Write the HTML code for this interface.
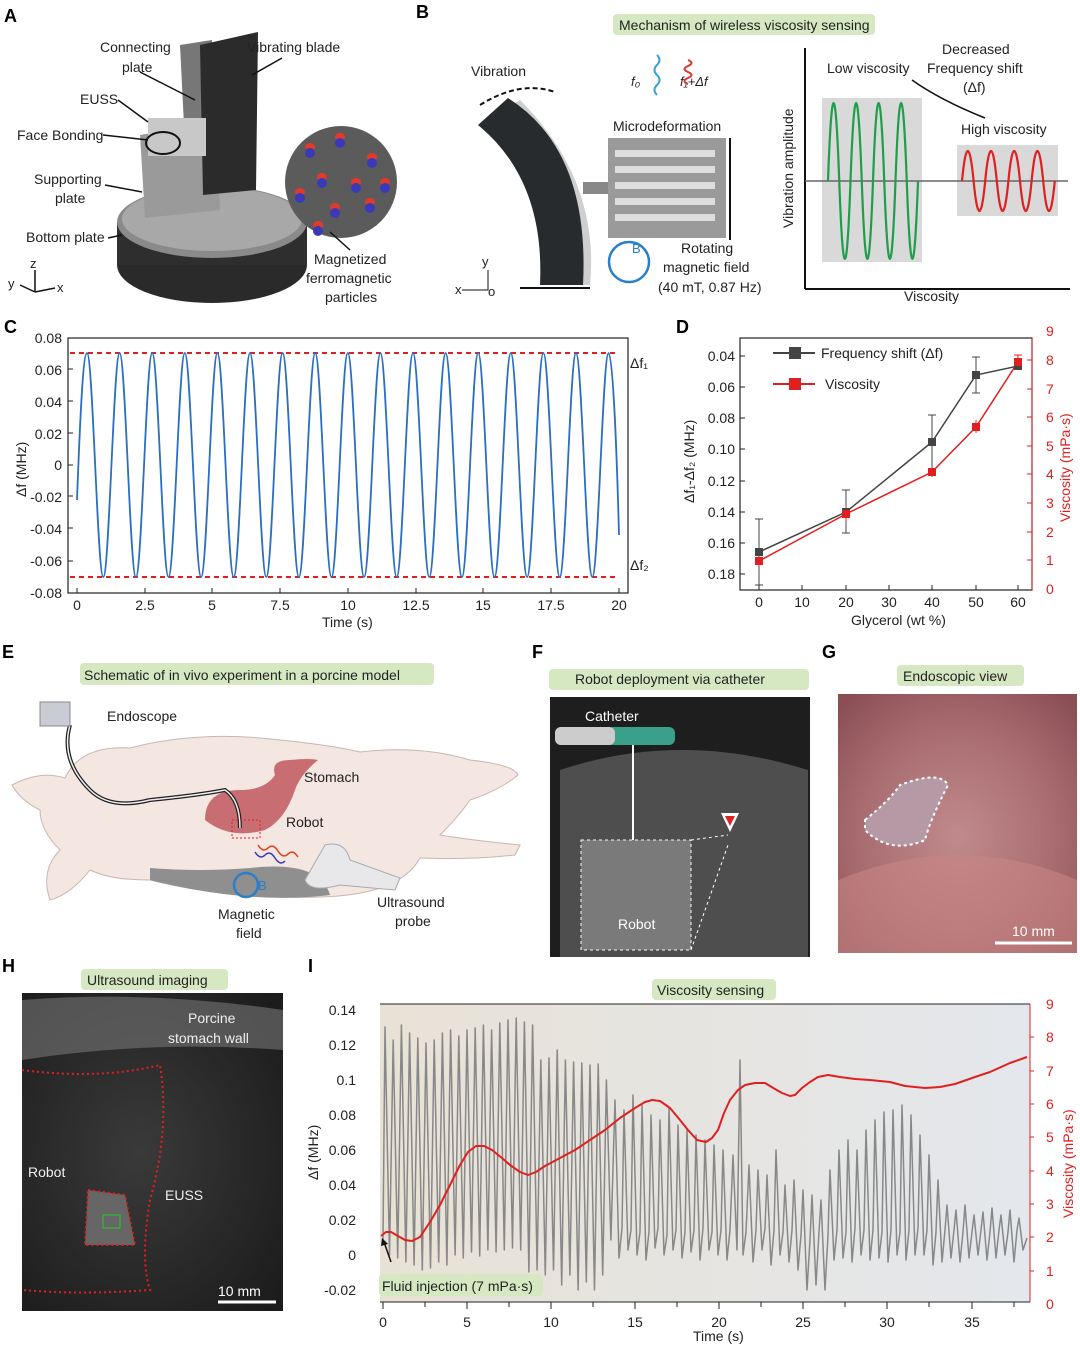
<!DOCTYPE html>
<html><head><meta charset="utf-8"><style>
body{margin:0;background:#fff}
svg{display:block;font-family:"Liberation Sans",sans-serif}
.L{font-weight:bold;font-size:18px}
.t{font-size:14px;fill:#222}
.s{font-size:13px;fill:#222}
.r{font-size:14px;fill:#e02020}
.w{font-size:14px;fill:#fff}
.e{font-size:14px;fill:#eee}
</style></head><body>
<svg width="1080" height="1346" viewBox="0 0 1080 1346" xmlns="http://www.w3.org/2000/svg">
<defs>
<linearGradient id="gI" x1="0" x2="1"><stop offset="0" stop-color="#e8e2d6"/><stop offset="1" stop-color="#e4e7ec"/></linearGradient>
<radialGradient id="gG" cx="0.5" cy="0.55" r="0.7"><stop offset="0" stop-color="#c08a8c"/><stop offset="0.6" stop-color="#a86c70"/><stop offset="1" stop-color="#8a4f55"/></radialGradient>
<radialGradient id="gH" cx="0.45" cy="0.5" r="0.7"><stop offset="0" stop-color="#3a3a3a"/><stop offset="1" stop-color="#1c1c1c"/></radialGradient>
</defs>
<!-- Panel A -->
<text x="4" y="22" class="L">A</text>
<ellipse cx="212" cy="265" rx="95" ry="38" fill="#2a2a2a"/>
<rect x="117" y="222" width="190" height="43" fill="#2e2e2e"/>
<ellipse cx="212" cy="222" rx="95" ry="36" fill="#8a8a8a"/>
<ellipse cx="212" cy="219" rx="90" ry="32" fill="#a8a8a8"/>
<polygon points="140,135 215,122 220,210 145,218" fill="#9a9a9a"/>
<polygon points="180,45 212,40 216,120 184,125" fill="#777"/>
<polygon points="200,45 258,32 256,190 203,195" fill="#2b2b2b"/>
<rect x="148" y="118" width="58" height="38" fill="#c8c8c8"/>
<ellipse cx="163" cy="143" rx="17" ry="11" fill="none" stroke="#111" stroke-width="2"/>
<circle cx="341" cy="182" r="56" fill="#5b5b5b"/>
<g>
<ellipse cx="310" cy="147" rx="5" ry="4" fill="#e03a2a"/><ellipse cx="310" cy="153" rx="5" ry="5" fill="#3a3ab8"/>
<ellipse cx="340" cy="137" rx="5" ry="4" fill="#e03a2a"/><ellipse cx="340" cy="143" rx="5" ry="5" fill="#3a3ab8"/>
<ellipse cx="372" cy="157" rx="5" ry="4" fill="#e03a2a"/><ellipse cx="372" cy="163" rx="5" ry="5" fill="#3a3ab8"/>
<ellipse cx="322" cy="177" rx="5" ry="4" fill="#e03a2a"/><ellipse cx="322" cy="183" rx="5" ry="5" fill="#3a3ab8"/>
<ellipse cx="356" cy="182" rx="5" ry="4" fill="#e03a2a"/><ellipse cx="356" cy="188" rx="5" ry="5" fill="#3a3ab8"/>
<ellipse cx="300" cy="192" rx="5" ry="4" fill="#e03a2a"/><ellipse cx="300" cy="198" rx="5" ry="5" fill="#3a3ab8"/>
<ellipse cx="335" cy="207" rx="5" ry="4" fill="#e03a2a"/><ellipse cx="335" cy="213" rx="5" ry="5" fill="#3a3ab8"/>
<ellipse cx="370" cy="202" rx="5" ry="4" fill="#e03a2a"/><ellipse cx="370" cy="208" rx="5" ry="5" fill="#3a3ab8"/>
<ellipse cx="318" cy="225" rx="5" ry="4" fill="#e03a2a"/><ellipse cx="318" cy="231" rx="5" ry="5" fill="#3a3ab8"/>
<ellipse cx="385" cy="182" rx="5" ry="4" fill="#e03a2a"/><ellipse cx="385" cy="188" rx="5" ry="5" fill="#3a3ab8"/>
</g>
<text x="100" y="52" class="t">Connecting</text><text x="122" y="72" class="t">plate</text>
<text x="247" y="52" class="t">Vibrating blade</text>
<text x="80" y="104" class="t">EUSS</text>
<text x="17" y="140" class="t">Face Bonding</text>
<text x="34" y="184" class="t">Supporting</text><text x="55" y="203" class="t">plate</text>
<text x="26" y="242" class="t">Bottom plate</text>
<text x="314" y="264" class="t">Magnetized</text><text x="306" y="283" class="t">ferromagnetic</text><text x="325" y="302" class="t">particles</text>
<g stroke="#111" stroke-width="1.5" fill="none"><line x1="140" y1="72" x2="195" y2="100"/><line x1="118" y1="100" x2="148" y2="122"/><line x1="103" y1="135" x2="148" y2="140"/><line x1="105" y1="185" x2="142" y2="192"/><line x1="108" y1="238" x2="122" y2="235"/><line x1="282" y1="58" x2="252" y2="75"/><line x1="350" y1="250" x2="330" y2="232"/>
<line x1="35" y1="292" x2="35" y2="270"/><line x1="35" y1="292" x2="55" y2="288"/><line x1="35" y1="292" x2="20" y2="285"/></g>
<text x="30" y="268" class="s">z</text><text x="57" y="292" class="s">x</text><text x="8" y="288" class="s">y</text>
<!-- Panel B -->
<text x="416" y="18" class="L">B</text>
<rect x="613" y="14" width="262" height="21" rx="4" fill="#d6e8c2"/>
<text x="619" y="30" class="t">Mechanism of wireless viscosity sensing</text>
<path d="M520,100 Q600,180 590,285 L545,285 Q545,180 478,125 Z" fill="#cfcfcf"/>
<path d="M478,125 Q545,180 540,285 L583,285 Q590,150 508,98 Z" fill="#272b2d"/>
<line x1="520" y1="288" x2="590" y2="288" stroke="#111" stroke-width="2"/>
<path d="M480,105 Q520,80 555,92" stroke="#111" stroke-width="2" fill="none" stroke-dasharray="5,3"/>
<text x="471" y="76" class="t">Vibration</text>
<rect x="583" y="182" width="30" height="12" fill="#888"/>
<rect x="608" y="138" width="118" height="100" fill="#9a9a9a"/>
<g fill="#ddd"><rect x="615" y="150" width="100" height="7"/><rect x="615" y="166" width="100" height="7"/><rect x="615" y="182" width="100" height="7"/><rect x="615" y="198" width="100" height="7"/><rect x="615" y="214" width="100" height="7"/></g>
<line x1="730" y1="138" x2="730" y2="240" stroke="#111" stroke-width="2"/>
<text x="613" y="131" class="t">Microdeformation</text>
<text x="631" y="86" class="s" font-style="italic">f₀</text><text x="680" y="86" class="s" font-style="italic">f₁+Δf</text>
<path d="M657,55 q5,5 0,10 q-5,5 0,10 q5,5 0,10 q-5,5 0,10" stroke="#3aa0d8" fill="none" stroke-width="2"/>
<path d="M688,60 q7,3 0,6 q-7,3 0,6 q7,3 0,6 q-7,3 0,6" stroke="#e03030" fill="none" stroke-width="2"/>
<circle cx="629" cy="262" r="20" fill="none" stroke="#2a7fc8" stroke-width="2.5"/>
<text x="632" y="253" class="s" style="fill:#2a7fc8">B</text>
<text x="681" y="253" class="t">Rotating</text><text x="663" y="272" class="t">magnetic field</text><text x="658" y="292" class="t">(40 mT, 0.87 Hz)</text>
<text x="482" y="266" class="s">y</text><text x="455" y="294" class="s">x</text><text x="488" y="296" class="s">o</text>
<polyline points="488,270 488,290 462,290" fill="none" stroke="#111"/>
<rect x="822" y="98" width="100" height="164" fill="#d9d9d9"/>
<rect x="957" y="145" width="101" height="71" fill="#d9d9d9"/>
<line x1="805" y1="48" x2="805" y2="289" stroke="#111" stroke-width="2"/>
<line x1="805" y1="289" x2="1070" y2="289" stroke="#111" stroke-width="2"/>
<line x1="805" y1="181" x2="1068" y2="181" stroke="#666" stroke-width="1.5"/>
<path d="M828,181 q5.6,-156 11.25,0 t11.25,0 t11.25,0 t11.25,0 t11.25,0 t11.25,0 t11.25,0 t11.25,0" fill="none" stroke="#1e9e4a" stroke-width="2.2"/>
<path d="M962,181 q5.8,-60 11.6,0 t11.6,0 t11.6,0 t11.6,0 t11.6,0 t11.6,0 t11.6,0 t11.6,0" fill="none" stroke="#e02020" stroke-width="2.2"/>
<path d="M912,80 Q940,100 985,118" stroke="#111" fill="none" stroke-width="1.5"/>
<text x="827" y="73" class="t">Low viscosity</text>
<text x="942" y="54" class="t">Decreased</text><text x="927" y="73" class="t">Frequency shift</text><text x="963" y="92" class="t">(Δf)</text>
<text x="961" y="134" class="t">High viscosity</text>
<text x="904" y="301" class="t">Viscosity</text>
<text transform="translate(793,228) rotate(-90)" class="t">Vibration amplitude</text>
<!-- Panel C -->
<text x="4" y="333" class="L">C</text>
<rect x="68" y="338" width="560" height="255" fill="none" stroke="#222" stroke-width="1.2"/>
<g class="t" text-anchor="end">
<text x="62" y="343">0.08</text><text x="62" y="375">0.06</text><text x="62" y="407">0.04</text><text x="62" y="439">0.02</text><text x="62" y="470">0</text><text x="62" y="502">-0.02</text><text x="62" y="534">-0.04</text><text x="62" y="566">-0.06</text><text x="62" y="598">-0.08</text>
</g>
<g class="t" text-anchor="middle">
<text x="77" y="610">0</text><text x="145" y="610">2.5</text><text x="212" y="610">5</text><text x="280" y="610">7.5</text><text x="348" y="610">10</text><text x="416" y="610">12.5</text><text x="483" y="610">15</text><text x="551" y="610">17.5</text><text x="619" y="610">20</text>
</g>
<g stroke="#222"><path d="M77,593v-5M145,593v-5M212,593v-5M280,593v-5M348,593v-5M416,593v-5M483,593v-5M551,593v-5M619,593v-5M68,369h5M68,401h5M68,433h5M68,465h5M68,496h5M68,528h5M68,561h5"/></g>
<line x1="70" y1="353" x2="615" y2="353" stroke="#e02020" stroke-width="2" stroke-dasharray="5,4"/>
<line x1="70" y1="577" x2="615" y2="577" stroke="#e02020" stroke-width="2" stroke-dasharray="5,4"/>
<path d="M77,500 C80,420 83,353 87,353 c5.9,0 10.4,224 16.3,224 s10.4,-224 16.3,-224 s10.4,224 16.3,224 s10.4,-224 16.3,-224 s10.4,224 16.3,224 s10.4,-224 16.3,-224 s10.4,224 16.3,224 s10.4,-224 16.3,-224 s10.4,224 16.3,224 s10.4,-224 16.3,-224 s10.4,224 16.3,224 s10.4,-224 16.3,-224 s10.4,224 16.3,224 s10.4,-224 16.3,-224 s10.4,224 16.3,224 s10.4,-224 16.3,-224 s10.4,224 16.3,224 s10.4,-224 16.3,-224 s10.4,224 16.3,224 s10.4,-224 16.3,-224 s10.4,224 16.3,224 s10.4,-224 16.3,-224 s10.4,224 16.3,224 s10.4,-224 16.3,-224 s10.4,224 16.3,224 s10.4,-224 16.3,-224 s10.4,224 16.3,224 s10.4,-224 16.3,-224 s10.4,224 16.3,224 s10.4,-224 16.3,-224 s10.4,224 16.3,224 s10.4,-224 16.3,-224 C613,353 617,460 619,535" fill="none" stroke="#2a6fc0" stroke-width="1.8"/>
<text x="630" y="368" class="t">Δf₁</text><text x="630" y="570" class="t">Δf₂</text>
<text x="322" y="627" class="t">Time (s)</text>
<text transform="translate(26,497) rotate(-90)" class="t">Δf (MHz)</text>
<!-- Panel D -->
<text x="676" y="333" class="L">D</text>
<rect x="740" y="338" width="292" height="252" fill="none" stroke="#222" stroke-width="1.2"/>
<line x1="1032" y1="338" x2="1032" y2="590" stroke="#e02020"/>
<g class="t" text-anchor="end">
<text x="735" y="361">0.04</text><text x="735" y="392">0.06</text><text x="735" y="423">0.08</text><text x="735" y="454">0.10</text><text x="735" y="486">0.12</text><text x="735" y="517">0.14</text><text x="735" y="548">0.16</text><text x="735" y="579">0.18</text>
</g>
<g class="r">
<text x="1046" y="594">0</text><text x="1046" y="565">1</text><text x="1046" y="537">2</text><text x="1046" y="508">3</text><text x="1046" y="479">4</text><text x="1046" y="451">5</text><text x="1046" y="422">6</text><text x="1046" y="394">7</text><text x="1046" y="365">8</text><text x="1046" y="336">9</text>
</g>
<g class="t" text-anchor="middle">
<text x="759" y="607">0</text><text x="802" y="607">10</text><text x="846" y="607">20</text><text x="889" y="607">30</text><text x="932" y="607">40</text><text x="976" y="607">50</text><text x="1018" y="607">60</text>
</g>
<path d="M740,356h5M740,387h5M740,418h5M740,449h5M740,481h5M740,512h5M740,543h5M740,574h5M759,590v-5M802,590v-5M846,590v-5M889,590v-5M932,590v-5M976,590v-5M1018,590v-5" stroke="#222"/>
<path d="M1032,560h-5M1032,532h-5M1032,503h-5M1032,474h-5M1032,446h-5M1032,417h-5M1032,389h-5M1032,360h-5" stroke="#e02020"/>
<path d="M759,519V585M755,519h8M755,585h8M846,490V533M842,490h8M842,533h8M932,415V470M928,415h8M928,470h8M976,357V393M972,357h8M972,393h8" stroke="#444"/>
<path d="M759,556V566M846,505V522M932,467V477M976,420V433M1018,355V369M1014,355h8M1014,369h8" stroke="#e02020"/>
<polyline points="759,552 846,512 932,442 976,375 1018,366" fill="none" stroke="#444" stroke-width="1.5"/>
<polyline points="759,561 846,514 932,472 976,427 1018,362" fill="none" stroke="#e02020" stroke-width="1.5"/>
<g fill="#444"><rect x="755" y="548" width="8" height="8"/><rect x="842" y="508" width="8" height="8"/><rect x="928" y="438" width="8" height="8"/><rect x="972" y="371" width="8" height="8"/><rect x="1014" y="362" width="8" height="8"/></g>
<g fill="#e02020"><rect x="755" y="557" width="8" height="8"/><rect x="842" y="510" width="8" height="8"/><rect x="928" y="468" width="8" height="8"/><rect x="972" y="423" width="8" height="8"/><rect x="1014" y="358" width="8" height="8"/></g>
<text x="851" y="625" class="t">Glycerol (wt %)</text>
<text transform="translate(694,503) rotate(-90)" class="t">Δf₁-Δf₂ (MHz)</text>
<text transform="translate(1070,522) rotate(-90)" class="r">Viscosity (mPa·s)</text>
<line x1="773" y1="353" x2="815" y2="353" stroke="#444" stroke-width="2"/><rect x="789" y="347" width="12" height="12" fill="#444"/>
<text x="821" y="358" class="t">Frequency shift (Δf)</text>
<line x1="773" y1="384" x2="815" y2="384" stroke="#e02020" stroke-width="2"/><rect x="789" y="378" width="12" height="12" fill="#e02020"/>
<text x="825" y="389" class="t">Viscosity</text>
<!-- Panel E -->
<text x="2" y="658" class="L">E</text>
<rect x="80" y="663" width="354" height="22" rx="4" fill="#d6e8c2"/>
<text x="84" y="680" class="t">Schematic of in vivo experiment in a porcine  model</text>
<path d="M12,785 Q40,770 65,778 Q80,745 130,748 Q200,730 280,740 Q330,745 360,752 Q420,745 470,760 Q515,765 518,775 Q500,790 470,800 Q460,815 440,835 Q470,840 520,845 L515,855 Q470,860 420,858 Q400,895 320,897 Q230,900 150,880 Q110,880 90,870 Q70,895 50,900 Q40,870 60,850 Q40,830 40,810 Q20,800 12,785 Z" fill="#f4e6e0" stroke="#c9b6b0"/>
<path d="M150,880 Q250,905 330,895 Q320,860 250,868 Q200,872 150,868 Z" fill="#8f8f8f"/>
<path d="M205,820 Q205,790 240,790 Q265,790 275,775 Q270,760 290,760 Q310,758 318,760 Q300,775 295,790 Q285,820 265,830 Q230,840 205,820 Z" fill="#c86e73"/>
<path d="M70,725 Q60,760 90,790 Q110,810 150,800 Q200,795 225,790 Q240,800 240,828" stroke="#222" stroke-width="4" fill="none"/>
<path d="M70,725 Q60,760 90,790 Q110,810 150,800 Q200,795 225,790 Q240,800 240,828" stroke="#eee" stroke-width="1.5" fill="none"/>
<rect x="40" y="702" width="30" height="24" fill="#c9ccd3" stroke="#888"/>
<rect x="232" y="820" width="28" height="18" fill="none" stroke="#e02020" stroke-dasharray="2,2"/>
<path d="M305,880 L325,845 Q345,840 350,860 L400,878 L395,890 L340,885 Q310,893 305,880 Z" fill="#e8e8ea" stroke="#aaa"/>
<path d="M258,845 q5,8 10,3 q5,-5 10,3 q5,8 10,3 q5,-5 10,3" stroke="#e04020" fill="none" stroke-width="1.5"/>
<path d="M255,852 q5,8 10,3 q5,-5 10,3 q5,8 10,3" stroke="#3a3ab8" fill="none" stroke-width="1.5"/>
<circle cx="246" cy="885" r="12" fill="none" stroke="#2a7fc8" stroke-width="2.5"/>
<text x="258" y="890" class="s" style="fill:#2a7fc8">B</text>
<text x="107" y="721" class="t">Endoscope</text><text x="304" y="782" class="t">Stomach</text><text x="286" y="827" class="t">Robot</text>
<text x="218" y="919" class="t">Magnetic</text><text x="236" y="938" class="t">field</text>
<text x="377" y="907" class="t">Ultrasound</text><text x="395" y="926" class="t">probe</text>
<!-- Panel F -->
<text x="532" y="658" class="L">F</text>
<rect x="549" y="669" width="260" height="21" rx="4" fill="#d6e8c2"/>
<text x="575" y="684" class="t">Robot deployment via catheter</text>
<rect x="550" y="697" width="260" height="260" fill="#1e1e1e"/>
<path d="M560,770 Q680,730 808,770 L808,957 L560,957 Z" fill="#5a5a5a" opacity="0.8"/>
<rect x="581" y="840" width="110" height="110" fill="#7a7a7a" stroke="#fff" stroke-dasharray="3,3"/>
<line x1="691" y1="840" x2="728" y2="835" stroke="#fff" stroke-dasharray="3,3"/><line x1="691" y1="950" x2="728" y2="845" stroke="#fff" stroke-dasharray="3,3"/>
<line x1="633" y1="745" x2="633" y2="840" stroke="#fff" stroke-width="2"/>
<rect x="555" y="727" width="120" height="18" rx="6" fill="#3aa08a"/><rect x="555" y="727" width="60" height="18" rx="6" fill="#ccc"/>
<text x="585" y="721" class="w">Catheter</text><text x="618" y="929" class="w">Robot</text>
<polygon points="721,813 739,813 730,832" fill="#fff"/><polygon points="725,816 735,816 730,826" fill="#d22"/>
<!-- Panel G -->
<text x="822" y="658" class="L">G</text>
<rect x="897" y="665" width="127" height="21" rx="4" fill="#d6e8c2"/>
<text x="903" y="681" class="t">Endoscopic view</text>
<rect x="838" y="694" width="239" height="259" fill="url(#gG)"/>
<path d="M838,880 Q960,830 1077,880 L1077,953 L838,953 Z" fill="#c88583" opacity="0.6"/>
<path d="M865,820 Q890,800 900,785 Q940,770 948,785 Q930,820 925,840 Q890,855 865,830 Z" fill="#b59aa6" stroke="#fff" stroke-width="2" stroke-dasharray="3,3"/>
<line x1="995" y1="943" x2="1072" y2="943" stroke="#fff" stroke-width="3"/>
<text x="1012" y="936" class="w">10 mm</text>
<!-- Panel H -->
<text x="2" y="972" class="L">H</text>
<rect x="81" y="969" width="147" height="21" rx="4" fill="#d6e8c2"/>
<text x="87" y="985" class="t">Ultrasound imaging</text>
<rect x="22" y="993" width="261" height="318" fill="url(#gH)"/>
<path d="M22,1000 Q150,990 283,1010 L283,1050 Q150,1040 22,1060 Z" fill="#777" opacity="0.6"/>
<path d="M22,1070 Q100,1080 160,1065 Q170,1130 150,1200 Q140,1260 150,1290 Q80,1295 22,1290" fill="none" stroke="#e02020" stroke-width="2" stroke-dasharray="2,3"/>
<path d="M88,1190 L125,1195 L135,1245 L85,1245 Z" fill="#666" stroke="#e02020" stroke-width="2" stroke-dasharray="2,3"/>
<rect x="103" y="1215" width="17" height="13" fill="none" stroke="#2c2"/>
<text x="188" y="1023" class="e">Porcine</text><text x="168" y="1043" class="e">stomach wall</text>
<text x="28" y="1177" class="e">Robot</text><text x="165" y="1200" class="e">EUSS</text>
<line x1="218" y1="1302" x2="276" y2="1302" stroke="#fff" stroke-width="3"/>
<text x="218" y="1296" class="w">10 mm</text>
<!-- Panel I -->
<text x="308" y="972" class="L">I</text>
<rect x="652" y="979" width="124" height="21" rx="4" fill="#d6e8c2"/>
<text x="657" y="995" class="t">Viscosity sensing</text>
<rect x="380" y="1004" width="650" height="298" fill="url(#gI)"/>
<polyline fill="none" stroke="#888" stroke-width="1.5" stroke-linejoin="round" points="383,1240 385,1027 389.5,1255 393.2,1040 397.7,1258 401.4,1025 405.9,1262 409.6,1033 414.1,1265 417.8,1038 422.3,1270 426,1043 430.5,1268 434.2,1040 438.7,1262 442.4,1033 446.9,1265 450.6,1030 455.1,1255 458.8,1036 463.3,1258 467,1030 471.5,1252 475.2,1028 479.7,1256 483.4,1025 487.9,1250 491.6,1030 496.1,1252 499.8,1023 504.3,1250 508,1020 512.5,1248 516.2,1018 520.7,1250 524.4,1022 528.9,1272 532.6,1025 537.1,1270 540.8,1060 545.3,1275 549,1058 553.5,1270 557.2,1050 561.7,1285 565.4,1060 569.9,1275 573.6,1062 578.1,1290 581.8,1063 586.3,1282 590,1065 594.5,1290 598.2,1064 602.7,1275 606.4,1080 610.9,1240 615,1100 619,1258 622,1228 624,1110 628,1250 631,1230 633,1095 637,1255 640,1232 642,1105 646,1260 649,1232 651,1115 655,1248 658,1228 660,1120 664,1255 667,1235 669,1108 673,1250 676,1230 678,1125 682,1258 685,1232 687,1130 691,1252 694,1230 696,1135 700,1260 703,1228 705,1140 709,1250 712,1232 714,1145 718,1255 721,1230 723,1150 727,1260 730,1230 733,1155 737,1250 740,1060 743,1255 746,1232 749,1165 753,1262 756,1230 758,1170 762,1250 765,1228 767,1175 771,1265 774,1230 776,1150 780,1255 783,1232 785,1185 789,1262 792,1230 794,1180 798,1270 801,1235 803,1190 807,1290 810,1240 812,1195 816,1285 819,1232 821,1200 825,1290 828,1235 830,1170 834,1260 837,1230 839,1150 843,1258 846,1232 848,1140 852,1262 855,1228 857,1150 861,1255 864,1230 866,1130 870,1260 873,1230 875,1120 879,1258 882,1232 884,1112 888,1262 891,1230 893,1110 897,1255 900,1232 902,1105 906,1260 909,1230 911,1115 915,1255 918,1228 920,1135 924,1255 927,1230 929,1155 933,1265 936,1232 938,1180 942,1262 945,1230 947,1205 951,1258 954,1230 956,1210 960,1262 963,1232 965,1205 969,1258 972,1232 974,1215 978,1255 981,1230 983,1212 987,1260 990,1232 992,1208 996,1258 999,1230 1001,1215 1005,1255 1008,1232 1010,1210 1014,1262 1017,1230 1019,1218 1023,1250 1027,1238"/>
<polyline fill="none" stroke="#e02020" stroke-width="2" stroke-linejoin="round" points="381,1236 386,1232 391,1232 398,1236 405,1240 412,1241 420,1237 430,1222 440,1205 450,1185 460,1165 468,1152 476,1146 484,1146 492,1150 502,1158 510,1165 520,1172 528,1175 536,1172 545,1166 560,1158 575,1150 590,1140 605,1130 620,1118 635,1108 645,1102 652,1100 660,1101 670,1108 680,1120 688,1130 697,1140 706,1142 712,1138 718,1130 724,1113 730,1100 738,1090 745,1085 755,1083 765,1083 775,1089 782,1093 790,1096 795,1095 802,1088 810,1082 818,1077 828,1075 840,1077 855,1079 870,1080 890,1082 905,1086 925,1088 940,1087 955,1084 975,1077 990,1072 1010,1063 1027,1057"/>
<line x1="380" y1="1004" x2="1030" y2="1004" stroke="#222"/><line x1="380" y1="1302" x2="1030" y2="1302" stroke="#222"/>
<line x1="1030" y1="1004" x2="1030" y2="1302" stroke="#e02020"/>
<g class="t" text-anchor="end">
<text x="356" y="1015">0.14</text><text x="356" y="1050">0.12</text><text x="356" y="1085">0.1</text><text x="356" y="1120">0.08</text><text x="356" y="1155">0.06</text><text x="356" y="1190">0.04</text><text x="356" y="1225">0.02</text><text x="356" y="1260">0</text><text x="356" y="1295">-0.02</text>
</g>
<g class="r">
<text x="1046" y="1309">0</text><text x="1046" y="1276">1</text><text x="1046" y="1242">2</text><text x="1046" y="1209">3</text><text x="1046" y="1176">4</text><text x="1046" y="1142">5</text><text x="1046" y="1109">6</text><text x="1046" y="1076">7</text><text x="1046" y="1042">8</text><text x="1046" y="1009">9</text>
</g>
<path d="M1030,1271h4M1030,1237h4M1030,1204h4M1030,1171h4M1030,1137h4M1030,1104h4M1030,1071h4M1030,1037h4" stroke="#e02020"/>
<path d="M383,1302v7M425,1302v5M467,1302v7M509,1302v5M551,1302v7M593,1302v5M635,1302v7M677,1302v5M719,1302v7M761,1302v5M803,1302v7M845,1302v5M887,1302v7M929,1302v5M972,1302v7M1014,1302v5" stroke="#222"/>
<g class="t" text-anchor="middle">
<text x="383" y="1327">0</text><text x="467" y="1327">5</text><text x="551" y="1327">10</text><text x="635" y="1327">15</text><text x="719" y="1327">20</text><text x="803" y="1327">25</text><text x="887" y="1327">30</text><text x="972" y="1327">35</text>
</g>
<rect x="379" y="1274" width="164" height="22" rx="4" fill="#d6e8c2"/>
<text x="382" y="1291" class="t">Fluid injection (7 mPa·s)</text>
<line x1="391" y1="1262" x2="384" y2="1242" stroke="#111" stroke-width="1.5"/>
<polygon points="382,1238 381,1246 388,1244" fill="#111"/>
<text x="693" y="1341" class="t">Time (s)</text>
<text transform="translate(318,1180) rotate(-90)" class="t">Δf (MHz)</text>
<text transform="translate(1073,1218) rotate(-90)" class="r">Viscosity (mPa·s)</text>
</svg>
</body></html>
